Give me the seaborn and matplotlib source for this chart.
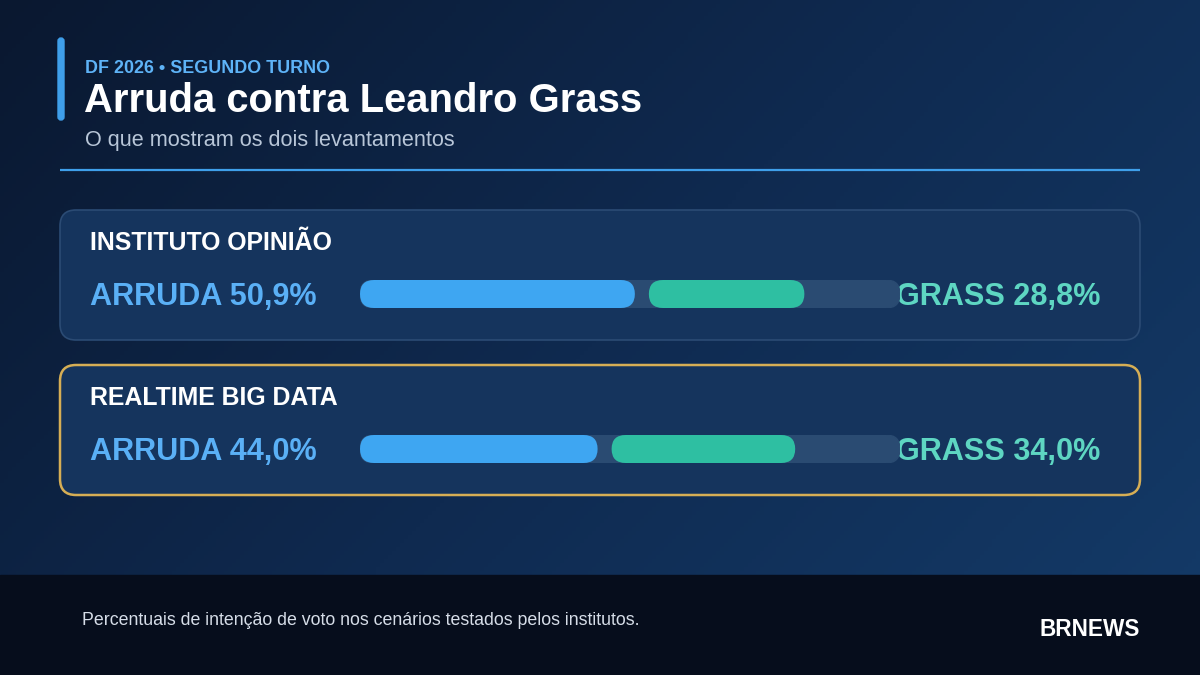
import numpy as np
import pandas as pd
import matplotlib.pyplot as plt
import seaborn as sns
from matplotlib.patches import FancyBboxPatch, Rectangle
from matplotlib.colors import LinearSegmentedColormap

# dados dos dois levantamentos
polls = ["INSTITUTO OPINIÃO", "REALTIME BIG DATA"]
arruda = [50.9, 44.0]
grass = [28.8, 34.0]
card_borders = ["#2b4b74", "#d6ae55"]

kicker = "DF 2026 • SEGUNDO TURNO"
title = "Arruda contra Leandro Grass"
subtitle = "O que mostram os dois levantamentos"
footnote = "Percentuais de intenção de voto nos cenários testados pelos institutos."
brand = "BRNEWS"

BLUE = "#3ea6f2"
GREEN = "#2ebfa2"
TRACK = "#2a4b72"
CARD = "#15345d"

sns.set_theme(style="white")
plt.rcParams["font.family"] = ["Liberation Sans", "DejaVu Sans"]

W, H = 1200, 675
fig = plt.figure(figsize=(12, 6.75), dpi=100)
ax = fig.add_axes([0, 0, 1, 1])
ax.set_xlim(0, W)
ax.set_ylim(H, 0)
ax.axis("off")

# fundo em degradê
yy, xx = np.mgrid[0:H:4, 0:W:4]
grad = 0.65 * xx / W + 0.35 * yy / H
cmap = LinearSegmentedColormap.from_list("bg", ["#0a1830", "#0f2a50", "#143b69"])
ax.imshow(grad, extent=(0, W, H, 0), cmap=cmap, aspect="auto", zorder=0)

# rodapé
ax.add_patch(Rectangle((0, 575), W, 100, color="#060d1c", zorder=1))
ax.text(82, 625, footnote, color="#d6dde8", fontsize=12.8, va="baseline", zorder=2)
ax.text(1140, 636, brand, color="white", fontsize=16.3, fontweight="bold",
        ha="right", va="baseline", zorder=2)

# cabeçalho
ax.add_patch(FancyBboxPatch((58, 38), 6, 82, boxstyle="round,pad=0,rounding_size=3",
                            color="#3f9fea", zorder=2))
ax.text(85, 73, kicker, color="#5eb3f7", fontsize=12.9, fontweight="bold", va="baseline")
ax.text(84, 112, title, color="white", fontsize=28.8, fontweight="bold", va="baseline")
ax.text(85, 146, subtitle, color="#b8c6d8", fontsize=15.6, va="baseline")
ax.plot([60, 1140], [170, 170], color="#3f9fea", lw=1.6, solid_capstyle="butt")

# cartões
card_tops = [210, 365]
track_x0, track_w, bar_h = 360, 540, 28
gap = 14 / track_w * 100
h_units = bar_h / track_w * 100

for i, poll in enumerate(polls):
    top = card_tops[i]
    ax.add_patch(FancyBboxPatch((60, top), 1080, 130, boxstyle="round,pad=0,rounding_size=16",
                                facecolor=CARD, edgecolor=card_borders[i],
                                lw=1.2 if i == 0 else 1.8, zorder=2))
    ax.text(90, top + 40, poll, color="white", fontsize=17.9, fontweight="bold",
            va="baseline", zorder=3)
    yc = top + 84
    ax.text(90, yc + 11, f"ARRUDA {arruda[i]:.1f}%".replace(".", ","), color="#5ab0f6",
            fontsize=22.1, fontweight="bold", va="baseline", zorder=3)
    ax.text(1100, yc + 11, f"GRASS {grass[i]:.1f}%".replace(".", ","), color="#5ed6c2",
            fontsize=22.1, fontweight="bold", ha="right", va="baseline", zorder=5)

    tax = fig.add_axes([track_x0 / W, 1 - (yc + bar_h / 2) / H, track_w / W, bar_h / H])
    tax.add_patch(FancyBboxPatch((0, -h_units / 2), 100, h_units,
                                 boxstyle=f"round,pad=0,rounding_size={h_units / 2}",
                                 color=TRACK, zorder=0))
    df = pd.DataFrame({"valor": [arruda[i], grass[i]], "linha": [0.0, 0.0]})
    sns.barplot(data=df.iloc[[0]], x="valor", y="linha", orient="h", native_scale=True,
                width=h_units, color=BLUE, saturation=1, ax=tax)
    sns.barplot(data=df.iloc[[1]], x="valor", y="linha", orient="h", native_scale=True,
                width=h_units, color=GREEN, saturation=1, left=arruda[i] + gap, ax=tax)
    # pontas arredondadas
    for p in list(tax.patches):
        if isinstance(p, Rectangle):
            x0, y0, w, h = p.get_x(), p.get_y(), p.get_width(), p.get_height()
            fc = p.get_facecolor()
            p.remove()
            tax.add_patch(FancyBboxPatch((x0, y0), w, h,
                                         boxstyle=f"round,pad=0,rounding_size={h / 2}",
                                         facecolor=fc, edgecolor="none", zorder=2))
    tax.set_xlim(0, 100)
    tax.set_ylim(-h_units / 2, h_units / 2)
    tax.axis("off")
    tax.patch.set_alpha(0)

fig.savefig("out.png", dpi=100, facecolor="#0a1830")
